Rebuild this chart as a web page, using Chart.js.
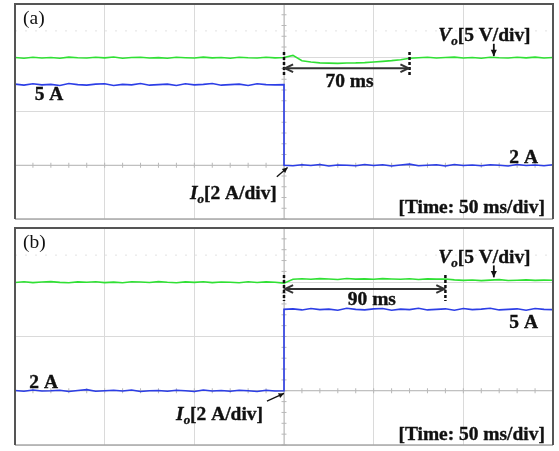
<!DOCTYPE html>
<html>
<head>
<meta charset="utf-8">
<script src="https://cdn.jsdelivr.net/npm/chart.js@4.4.1/dist/chart.umd.min.js"></script>
<style>
  html, body { margin: 0; padding: 0; background: #fff; }
  body { width: 559px; height: 451px; position: relative; overflow: hidden; }
  canvas { position: absolute; }
</style>
</head>
<body>
<canvas id="panelA" width="542" height="218" style="left:13px;top:2px"></canvas>
<canvas id="panelB" width="542" height="220" style="left:13px;top:226px"></canvas>
<script>
// Sample times (ms), 50 ms/div over 6 divisions
const timeMs = [0,5,10,15,20,25,30,35,40,45,50,55,60,65,70,75,80,85,90,95,
  100,105,110,115,120,125,130,135,140,145,150,155,160,165,170,175,180,185,190,195,
  200,205,210,215,220,225,230,235,240,245,250,255,260,265,270,275,280,285,290,295,300];
// Current samples: the load step at 150 ms appears twice (vertical edge)
const timeStepMs = [0,5,10,15,20,25,30,35,40,45,50,55,60,65,70,75,80,85,90,95,
  100,105,110,115,120,125,130,135,140,145,150,150,155,160,165,170,175,180,185,190,195,
  200,205,210,215,220,225,230,235,240,245,250,255,260,265,270,275,280,285,290,295,300];
const timeTicks = [0, 50, 100, 150, 200, 250, 300];

// (a) load step-down 5 A -> 2 A
const voA = [15.02,14.96,15.05,14.98,15.03,14.95,15.06,15.0,14.97,15.04,14.99,15.07,14.96,15.02,15.05,
  14.98,15.01,14.95,15.04,15.0,14.97,15.06,14.99,15.03,14.96,15.05,15.0,14.98,15.04,14.99,
  15.02,15.22,14.72,14.6,14.52,14.5,14.48,14.51,14.52,14.55,14.6,14.66,14.73,14.82,14.95,15.0,
  15.04,14.97,15.03,15.06,14.98,15.02,14.96,15.05,15.0,14.97,15.04,14.99,15.06,14.98,15.02];
const ioA = [5.02,4.98,5.03,4.99,5.01,4.97,5.04,5.0,4.98,5.02,5.03,4.97,5.01,4.99,5.04,4.98,
  5.0,5.02,4.97,5.03,4.99,5.01,5.04,4.98,5.0,5.02,4.97,5.03,5.0,4.99,5.0,
  2.0,1.98,2.02,1.99,2.03,1.97,2.01,2.0,1.98,2.03,1.99,2.02,1.97,2.01,2.04,1.98,
  2.0,2.02,1.97,2.03,1.99,2.01,1.98,2.02,2.0,1.97,2.03,1.99,2.01,1.98,2.02];

// (b) load step-up 2 A -> 5 A
const voB = [14.98,15.04,14.97,15.02,15.06,14.99,14.96,15.03,15.0,15.05,14.97,15.01,14.95,15.04,15.02,
  14.98,15.06,15.0,14.96,15.03,14.99,15.05,14.97,15.02,15.0,14.95,15.04,14.98,15.03,15.0,
  14.92,15.28,15.32,15.27,15.33,15.3,15.26,15.34,15.29,15.31,15.27,15.33,15.3,15.28,15.32,15.26,15.31,15.29,15.3,
  15.22,15.17,15.21,15.15,15.2,15.24,15.16,15.19,15.22,15.17,15.2,15.18];
const ioB = [2.01,1.98,2.03,1.99,2.0,2.02,1.97,2.01,2.04,1.98,2.0,2.02,1.99,2.03,1.97,2.0,
  2.01,1.98,2.02,2.0,1.97,2.03,1.99,2.01,1.98,2.02,2.0,1.97,2.02,1.99,2.0,
  5.0,5.02,4.98,5.03,4.99,5.01,4.97,5.04,5.0,4.98,5.02,5.03,4.97,5.01,4.99,5.04,
  4.98,5.0,5.02,4.97,5.03,4.99,5.01,5.04,4.98,5.0,5.02,4.97,5.03,5.0,4.99];

// Recovery times marked on the voltage traces (ms)
const recoveryA = 70;
const recoveryB = 90;
const stepAt = 150;

const GREEN = '#30e034';
const BLUE = '#2c3ee6';
const SERIF = '"Liberation Serif", "Times New Roman", serif';
const SX = 1.08;

function textRun(ctx, parts, x, y, align) {
  let total = 0;
  parts.forEach(p => {
    ctx.font = `${p.style} ${p.size}px ${SERIF}`;
    p.w = ctx.measureText(p.t).width * SX;
    total += p.w;
  });
  let cx = align === 'right' ? x - total : align === 'center' ? x - total / 2 : x;
  parts.forEach(p => {
    const heavy = p.style !== 'normal';
    ctx.save();
    ctx.font = `${p.style} ${p.size}px ${SERIF}`;
    ctx.fillStyle = '#111';
    ctx.strokeStyle = '#111';
    ctx.lineWidth = 0.35;
    ctx.textBaseline = 'alphabetic';
    ctx.textAlign = 'left';
    ctx.translate(cx, y + (p.dy || 0));
    ctx.scale(SX, 1);
    ctx.fillText(p.t, 0, 0);
    if (heavy) ctx.strokeText(p.t, 0, 0);
    ctx.restore();
    cx += p.w;
  });
}

function arrowHead(ctx, x, y, ang, len, filled) {
  ctx.beginPath();
  ctx.moveTo(x - len * Math.cos(ang - 0.45), y - len * Math.sin(ang - 0.45));
  ctx.lineTo(x, y);
  ctx.lineTo(x - len * Math.cos(ang + 0.45), y - len * Math.sin(ang + 0.45));
  if (filled) { ctx.closePath(); ctx.fill(); } else { ctx.stroke(); }
}

// Graticule extras: centre axes with minor ticks and faint dotted row
const scopeGrid = {
  id: 'scopeGrid',
  beforeDatasetsDraw(chart) {
    const { ctx, chartArea: a, scales: { x, yI } } = chart;
    ctx.save();
    const cx = x.getPixelForValue(stepAt);
    const cy = yI.getPixelForValue(2);
    ctx.strokeStyle = '#b8b8b8';
    ctx.lineWidth = 1;
    ctx.beginPath();
    ctx.moveTo(cx, a.top); ctx.lineTo(cx, a.bottom);
    ctx.moveTo(a.left, cy); ctx.lineTo(a.right, cy);
    for (let t = 0; t <= 300; t += 10) {
      const px = x.getPixelForValue(t);
      ctx.moveTo(px, cy - 2.5); ctx.lineTo(px, cy + 2.5);
    }
    for (let v = 0; v <= 8; v += 0.4) {
      const py = yI.getPixelForValue(v);
      ctx.moveTo(cx - 2.5, py); ctx.lineTo(cx + 2.5, py);
    }
    ctx.stroke();
    const dy = yI.getPixelForValue(7);
    ctx.strokeStyle = '#e2e2e2';
    ctx.setLineDash([2, 8]);
    ctx.beginPath();
    ctx.moveTo(a.left, dy); ctx.lineTo(a.right, dy);
    ctx.stroke();
    ctx.restore();
  },
  afterDraw(chart) {
    const { ctx, chartArea: a } = chart;
    ctx.save();
    ctx.strokeStyle = '#a8a8a8';
    ctx.lineWidth = 1.5;
    ctx.beginPath();
    ctx.moveTo(a.left, a.bottom); ctx.lineTo(a.right, a.bottom);
    ctx.stroke();
    ctx.strokeStyle = '#555';
    ctx.lineWidth = 2;
    ctx.beginPath();
    ctx.moveTo(a.left, a.bottom); ctx.lineTo(a.left, a.top);
    ctx.lineTo(a.right, a.top); ctx.lineTo(a.right, a.bottom);
    ctx.stroke();
    ctx.restore();
  }
};

// Text labels, pointers and the recovery-time dimension arrow
const scopeNotes = {
  id: 'scopeNotes',
  afterDatasetsDraw(chart, args, opts) {
    const { ctx, scales: { x, yI } } = chart;
    const px = v => x.getPixelForValue(v);
    const py = v => yI.getPixelForValue(v);
    ctx.save();
    (opts.markers || []).forEach(m => {
      ctx.strokeStyle = '#111';
      ctx.lineWidth = 2.5;
      ctx.setLineDash([3, 2]);
      ctx.beginPath();
      ctx.moveTo(px(m.x), py(m.y1)); ctx.lineTo(px(m.x), py(m.y2));
      ctx.stroke();
      ctx.setLineDash([]);
    });
    (opts.dims || []).forEach(d => {
      const x1 = px(d.x1) + 1, x2 = px(d.x2) - 1, y = py(d.y);
      ctx.strokeStyle = '#333';
      ctx.lineWidth = 2;
      ctx.beginPath();
      ctx.moveTo(x1, y); ctx.lineTo(x2, y);
      ctx.stroke();
      arrowHead(ctx, x1, y, Math.PI, 9, false);
      arrowHead(ctx, x2, y, 0, 9, false);
    });
    (opts.pointers || []).forEach(p => {
      const x1 = px(p.x1), y1 = py(p.y1), x2 = px(p.x2), y2 = py(p.y2);
      ctx.strokeStyle = '#111';
      ctx.fillStyle = '#111';
      ctx.lineWidth = p.w || 1.3;
      ctx.beginPath();
      ctx.moveTo(x1, y1); ctx.lineTo(x2, y2);
      ctx.stroke();
      arrowHead(ctx, x2, y2, Math.atan2(y2 - y1, x2 - x1), p.head || 6, true);
    });
    (opts.labels || []).forEach(l => textRun(ctx, l.parts, px(l.x), py(l.y), l.align));
    ctx.restore();
  }
};

const B = 'bold', IB = 'italic bold', N = 'normal';
const voltLabel = [{ t: 'V', style: IB, size: 18 }, { t: 'o', style: IB, size: 12, dy: 4 }, { t: '[5 V/div]', style: B, size: 18 }];
const currLabel = [{ t: 'I', style: IB, size: 18 }, { t: 'o', style: IB, size: 12, dy: 4 }, { t: '[2 A/div]', style: B, size: 18 }];
const timeLabel = [{ t: '[Time: 50 ms/div]', style: B, size: 18 }];

function makePanel(id, vo, io, notes) {
  return new Chart(document.getElementById(id), {
    type: 'line',
    data: {
      datasets: [
        { data: timeMs.map((t, i) => ({ x: t, y: vo[i] })), yAxisID: 'yV',
          borderColor: GREEN, borderWidth: 1.6 },
        { data: timeStepMs.map((t, i) => ({ x: t, y: io[i] })), yAxisID: 'yI',
          borderColor: BLUE, borderWidth: 1.6 }
      ]
    },
    options: {
      responsive: false,
      animation: false,
      devicePixelRatio: 1,
      layout: { padding: { left: 2, top: 2, right: 2, bottom: 1 } },
      elements: { point: { radius: 0 }, line: { tension: 0 } },
      scales: {
        x: {
          type: 'linear', min: 0, max: 300,
          afterBuildTicks: s => { s.ticks = timeTicks.map(v => ({ value: v })); },
          ticks: { display: false },
          grid: { color: '#dadada', lineWidth: 1, drawTicks: false },
          border: { display: false }
        },
        yI: {
          type: 'linear', position: 'left', min: 0, max: 8,
          ticks: { display: false, stepSize: 2 },
          grid: { color: '#dadada', lineWidth: 1, drawTicks: false },
          border: { display: false }
        },
        yV: { type: 'linear', position: 'right', min: 0, max: 20, display: false }
      },
      plugins: { legend: { display: false }, tooltip: { enabled: false }, scopeNotes: notes }
    },
    plugins: [scopeGrid, scopeNotes]
  });
}

makePanel('panelA', voA, ioA, {
  markers: [{ x: stepAt, y1: 6.21, y2: 5.35 }, { x: stepAt + recoveryA, y1: 6.21, y2: 5.35 }],
  dims: [{ x1: stepAt, x2: stepAt + recoveryA, y: 5.61 }],
  pointers: [{ x1: 267, y1: 6.52, x2: 267, y2: 6.06, w: 1.8, head: 7 }, { x1: 146, y1: 1.57, x2: 152, y2: 1.92 }],
  labels: [
    { x: 4.5, y: 7.25, align: 'left', parts: [{ t: '(a)', style: N, size: 18 }] },
    { x: 11, y: 4.41, align: 'left', parts: [{ t: '5 A', style: B, size: 18 }] },
    { x: 236, y: 6.62, align: 'left', parts: voltLabel },
    { x: 186.5, y: 4.9, align: 'center', parts: [{ t: `${recoveryA} ms`, style: B, size: 18 }] },
    { x: 146, y: 0.75, align: 'right', parts: currLabel },
    { x: 291.6, y: 2.09, align: 'right', parts: [{ t: '2 A', style: B, size: 18 }] },
    { x: 295.5, y: 0.22, align: 'right', parts: timeLabel }
  ]
});

makePanel('panelB', voB, ioB, {
  markers: [{ x: stepAt, y1: 6.27, y2: 5.31 }, { x: stepAt + recoveryB, y1: 6.27, y2: 5.31 }],
  dims: [{ x1: stepAt, x2: stepAt + recoveryB, y: 5.75 }],
  pointers: [{ x1: 267, y1: 6.62, x2: 267, y2: 6.18, w: 1.8, head: 7 }, { x1: 140.5, y1: 1.62, x2: 150, y2: 1.9 }],
  labels: [
    { x: 4.5, y: 7.26, align: 'left', parts: [{ t: '(b)', style: N, size: 18 }] },
    { x: 236, y: 6.71, align: 'left', parts: voltLabel },
    { x: 199, y: 5.16, align: 'center', parts: [{ t: `${recoveryB} ms`, style: B, size: 18 }] },
    { x: 291.6, y: 4.31, align: 'right', parts: [{ t: '5 A', style: B, size: 18 }] },
    { x: 8, y: 2.1, align: 'left', parts: [{ t: '2 A', style: B, size: 18 }] },
    { x: 138.3, y: 0.92, align: 'right', parts: currLabel },
    { x: 295.5, y: 0.18, align: 'right', parts: timeLabel }
  ]
});
</script>
</body>
</html>
